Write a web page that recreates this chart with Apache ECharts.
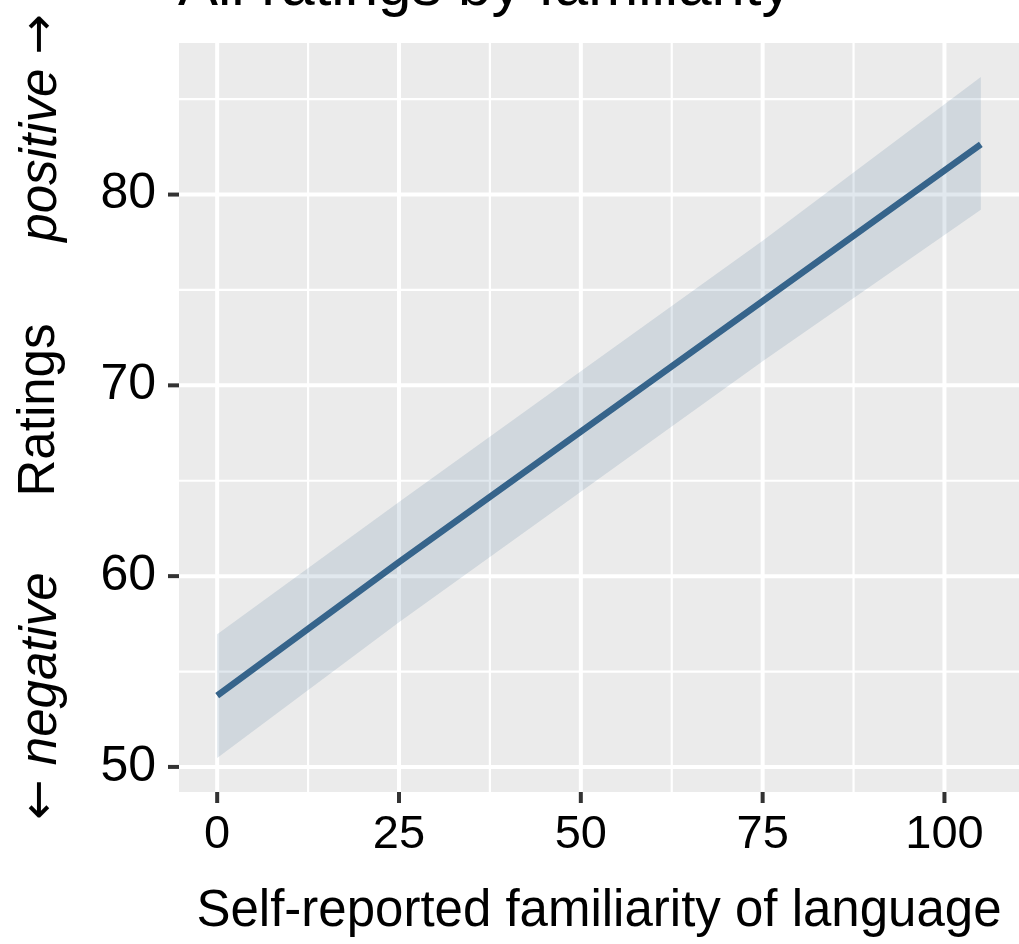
<!DOCTYPE html>
<html>
<head>
<meta charset="utf-8">
<title>All ratings by familiarity</title>
<script src="https://cdn.jsdelivr.net/npm/echarts@6/dist/echarts.min.js"></script>
<style>
  html, body { margin: 0; padding: 0; background: #ffffff; }
  #chart { width: 1019px; height: 944px; }
</style>
</head>
<body>
<div id="chart"></div>
<script>
// Linear fit of ratings on familiarity, with its confidence band
const familiarity = [0, 25, 50, 75, 105];
const fitted      = [53.74, 60.74, 67.58, 74.42, 82.63];
const upperCI     = [56.95, 63.89, 70.74, 77.58, 86.16];
const lowerCI     = [50.47, 57.58, 64.42, 71.26, 79.21];

// Axis breaks
const xMajor = [0, 25, 50, 75, 100];
const xMinor = [12.5, 37.5, 62.5, 87.5];
const yMajor = [50, 60, 70, 80];
const yMinor = [55, 65, 75, 85];

const LINE_COLOR = '#36648B';
const FONT = '"Liberation Sans", Arial, Helvetica, sans-serif';
const ARROW_FONT = '"DejaVu Sans", sans-serif';

// ggplot-style 5% expansion of the data range
function expand(lo, hi) {
  const pad = (hi - lo) * 0.05;
  return [lo - pad, hi + pad];
}
const xRange = expand(Math.min(...familiarity), Math.max(...familiarity));
const yRange = expand(Math.min(...lowerCI), Math.max(...upperCI));

// Panel grid lines (white, minor thinner than major), placed through the axis scales
function renderGrid(params, api) {
  const cs = params.coordSys;
  const children = [];
  const vline = (v, w) => {
    const px = api.coord([v, yRange[0]])[0];
    children.push({ type: 'line', shape: { x1: px, y1: cs.y, x2: px, y2: cs.y + cs.height },
      style: { stroke: '#ffffff', lineWidth: w } });
  };
  const hline = (v, w) => {
    const py = api.coord([xRange[0], v])[1];
    children.push({ type: 'line', shape: { x1: cs.x, y1: py, x2: cs.x + cs.width, y2: py },
      style: { stroke: '#ffffff', lineWidth: w } });
  };
  xMinor.forEach(v => vline(v, 2.2));
  yMinor.forEach(v => hline(v, 2.2));
  xMajor.forEach(v => vline(v, 4));
  yMajor.forEach(v => hline(v, 4));
  return { type: 'group', children: children };
}

// Axis tick marks outside the panel
function renderTicks(params, api) {
  const cs = params.coordSys;
  const len = 11;
  const children = [];
  xMajor.forEach(v => {
    const px = api.coord([v, yRange[0]])[0];
    children.push({ type: 'line', shape: { x1: px, y1: cs.y + cs.height, x2: px, y2: cs.y + cs.height + len },
      style: { stroke: '#333333', lineWidth: 4 } });
  });
  yMajor.forEach(v => {
    const py = api.coord([xRange[0], v])[1];
    children.push({ type: 'line', shape: { x1: cs.x - len, y1: py, x2: cs.x, y2: py },
      style: { stroke: '#333333', lineWidth: 4 } });
  });
  return { type: 'group', children: children };
}

const chart = echarts.init(document.getElementById('chart'), null, { renderer: 'canvas' });

const arrowRich = {
  arr: { font: '48px ' + ARROW_FONT, fill: '#000000' },
  w: { font: 'italic 51px ' + FONT, fill: '#000000' }
};

const option = {
  animation: false,
  backgroundColor: '#ffffff',
  grid: {
    left: 179, right: 0, top: 43, bottom: 152,
    show: true, backgroundColor: '#EBEBEB', borderWidth: 0
  },
  xAxis: {
    type: 'value',
    min: xRange[0], max: xRange[1],
    axisLine: { show: false },
    splitLine: { show: false },
    axisTick: { show: false },
    axisLabel: {
      customValues: xMajor, margin: 20,
      color: '#000000', fontSize: 47, fontFamily: FONT
    }
  },
  yAxis: {
    type: 'value',
    min: yRange[0], max: yRange[1],
    axisLine: { show: false },
    splitLine: { show: false },
    axisTick: { show: false },
    axisLabel: {
      customValues: yMajor, margin: 23,
      color: '#000000', fontSize: 50, fontFamily: FONT
    }
  },
  series: [
    {
      type: 'custom', z: 1, silent: true, clip: false,
      data: [0], renderItem: renderGrid
    },
    {
      type: 'custom', z: 1, silent: true, clip: false,
      data: [0], renderItem: renderTicks
    },
    {
      // confidence band
      type: 'custom',
      z: 2,
      silent: true,
      data: [0],
      renderItem: function (params, api) {
        const pts = [];
        for (let i = 0; i < familiarity.length; i++) {
          pts.push(api.coord([familiarity[i], upperCI[i]]));
        }
        for (let i = familiarity.length - 1; i >= 0; i--) {
          pts.push(api.coord([familiarity[i], lowerCI[i]]));
        }
        return {
          type: 'polygon',
          shape: { points: pts },
          style: { fill: 'rgba(54,100,139,0.15)' }
        };
      }
    },
    {
      // fitted line
      type: 'line',
      z: 3,
      silent: true,
      symbol: 'none',
      data: familiarity.map((x, i) => [x, fitted[i]]),
      lineStyle: { color: LINE_COLOR, width: 6.5, cap: 'butt' }
    }
  ],
  graphic: [
    {
      type: 'text', left: 178, top: -42,
      style: {
        text: 'All ratings by familiarity',
        font: '60px ' + FONT, fill: '#000000'
      }
    },
    {
      type: 'text', x: 40, y: 410, rotation: Math.PI / 2,
      style: {
        text: 'Ratings', font: '51px ' + FONT, fill: '#000000',
        align: 'center', verticalAlign: 'middle'
      }
    },
    {
      type: 'text', x: 42, y: 128, rotation: Math.PI / 2,
      style: {
        text: '{w|positive }{arr|\u2192}', rich: arrowRich,
        align: 'center', verticalAlign: 'middle'
      }
    },
    {
      type: 'text', x: 42, y: 696, rotation: Math.PI / 2,
      style: {
        text: '{arr|\u2190}{w| negative}', rich: arrowRich,
        align: 'center', verticalAlign: 'middle'
      }
    },
    {
      type: 'text', x: 599, y: 912,
      style: {
        text: 'Self-reported familiarity of language', font: '51px ' + FONT, fill: '#000000',
        align: 'center', verticalAlign: 'middle'
      }
    }
  ]
};

chart.setOption(option);
</script>
</body>
</html>
